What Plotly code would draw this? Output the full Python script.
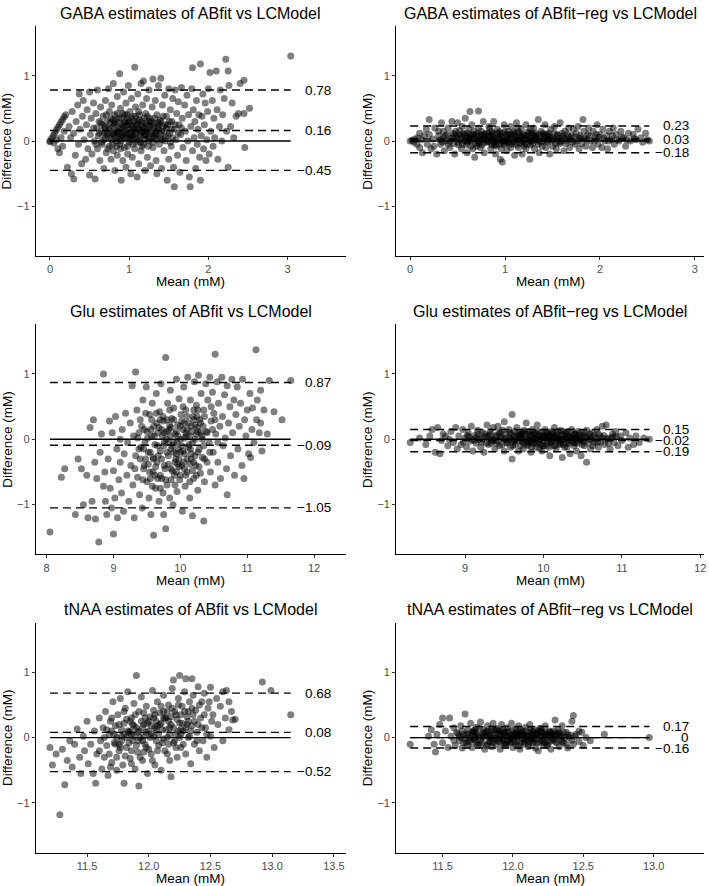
import plotly.graph_objects as go

# ---------------- data (mean, difference) ----------------
titles = [
    "GABA estimates of ABfit vs LCModel",
    "GABA estimates of ABfit\u2212reg vs LCModel",
    "Glu estimates of ABfit vs LCModel",
    "Glu estimates of ABfit\u2212reg vs LCModel",
    "tNAA estimates of ABfit vs LCModel",
    "tNAA estimates of ABfit\u2212reg vs LCModel",
]

# limits of agreement: upper, bias, lower
gaba_abfit_stats = [0.78, 0.16, -0.45]
gaba_reg_stats = [0.23, 0.03, -0.18]
glu_abfit_stats = [0.87, -0.09, -1.05]
glu_reg_stats = [0.15, -0.02, -0.19]
tnaa_abfit_stats = [0.68, 0.08, -0.52]
tnaa_reg_stats = [0.17, 0.00, -0.16]

x_ticks_gaba = [0, 1, 2, 3]
x_ticks_glu_abfit = [8, 9, 10, 11, 12]
x_ticks_glu_reg = [9, 10, 11, 12]
x_ticks_tnaa_abfit = [11.5, 12.0, 12.5, 13.0, 13.5]
x_ticks_tnaa_reg = [11.5, 12.0, 12.5, 13.0]
y_ticks = [-1, 0, 1]

gaba_abfit_points = [
    (0.00,0.00),(0.00,-0.01),(0.02,0.04),(0.04,0.08),(0.06,0.12),(0.08,0.17),(0.10,0.21),(0.12,0.25),
    (0.14,0.29),(0.16,0.33),(0.18,0.37),(0.20,0.40),(0.05,-0.03),(0.08,0.02),
    (0.10,-0.12),(0.12,-0.18),(0.14,0.05),(0.16,-0.08),(0.18,0.15),
    (0.22,-0.40),(0.24,0.22),(0.26,0.05),(0.27,-0.50),(0.28,0.45),(0.30,-0.58),(0.30,0.12),(0.32,-0.22),
    (0.33,0.30),(0.35,0.55),(0.36,-0.05),(0.37,0.72),(0.38,0.18),(0.40,-0.35),(0.41,0.38),(0.42,0.62),
    (0.43,0.02),(0.45,-0.28),(0.46,0.25),(0.47,0.48),(0.48,-0.12),(0.50,0.75),(0.50,-0.52),(0.51,0.10),
    (0.52,0.35),(0.53,-0.20),(0.55,0.58),(0.56,0.00),(0.57,-0.58),(0.58,0.42),(0.59,0.20),(0.60,0.78),
    (0.60,-0.12),(0.61,0.08),(0.62,0.30),(0.63,-0.30),(0.64,0.52),(0.65,0.15),(0.66,-0.05),(0.67,0.38),
    (0.68,-0.42),(0.69,0.22),(0.70,0.05),(0.70,0.62),(0.71,-0.18),(0.72,0.30),(0.73,0.12),(0.74,0.80),
    (0.75,-0.08),(0.75,0.45),(0.76,0.20),(0.77,-0.28),(0.78,0.02),(0.78,0.55),(0.79,0.32),(0.80,-0.15),
    (0.80,0.88),(0.81,0.12),(0.82,0.40),(0.82,-0.45),(0.83,0.25),(0.84,0.00),(0.85,0.68),(0.85,-0.22),
    (0.86,0.15),(0.87,0.35),(0.88,1.03),(0.88,-0.05),(0.89,0.50),(0.90,0.20),(0.90,-0.60),(0.91,0.08),
    (0.92,0.42),(0.92,-0.30),(0.93,0.75),(0.94,0.28),(0.94,-0.10),(0.95,0.05),(0.96,0.58),(0.96,-0.40),
    (0.97,0.18),(0.98,0.35),(0.98,-0.20),(0.99,0.85),(1.00,0.10),(1.00,-0.02),(1.01,0.45),(1.02,0.25),
    (1.02,-0.50),(1.03,0.65),(1.04,0.05),(1.04,-0.25),(1.05,0.38),(1.06,0.15),(1.07,1.13),(1.07,-0.12),
    (1.08,0.52),(1.09,0.28),(1.10,-0.55),(1.10,0.02),(1.11,0.72),(1.12,0.18),(1.12,-0.35),(1.13,0.40),
    (1.14,0.08),(1.15,0.88),(1.15,-0.15),(1.16,0.30),(1.17,0.55),(1.18,-0.05),(1.18,0.92),(1.19,0.20),
    (1.20,-0.45),(1.20,0.10),(1.21,0.42),(1.22,0.65),(1.23,-0.25),(1.24,0.25),(1.25,0.00),(1.25,0.78),
    (1.26,0.35),(1.27,-0.38),(1.28,0.15),(1.29,0.52),(1.30,-0.10),(1.30,0.95),(1.31,0.28),(1.32,0.05),
    (1.33,0.62),(1.34,-0.30),(1.35,0.40),(1.35,-0.50),(1.36,0.18),(1.37,0.85),(1.38,-0.05),(1.39,0.32),
    (1.40,0.96),(1.40,0.10),(1.41,-0.42),(1.42,0.55),(1.43,0.22),(1.44,-0.15),(1.45,0.70),(1.46,0.05),
    (1.47,0.38),(1.48,-0.60),(1.49,0.25),(1.50,-0.28),(1.50,0.80),(1.51,0.12),(1.52,0.48),(1.53,-0.08),
    (1.54,0.30),(1.55,0.65),(1.56,-0.40),(1.57,-0.70),(1.57,0.18),(1.58,0.78),(1.59,0.02),(1.60,0.42),
    (1.61,-0.22),(1.62,0.60),(1.63,0.25),(1.64,-0.48),(1.65,0.10),(1.66,0.82),(1.67,0.35),(1.68,-0.10),
    (1.70,0.55),(1.71,0.15),(1.72,-0.30),(1.73,0.70),(1.74,0.00),(1.75,0.40),(1.76,-0.55),(1.77,-0.70),
    (1.78,0.22),(1.79,0.80),(1.80,1.12),(1.80,-0.15),(1.81,0.48),(1.82,0.05),(1.83,0.30),(1.84,-0.42),
    (1.85,0.62),(1.86,-0.05),(1.87,0.18),(1.88,0.40),(1.89,-0.25),(1.90,1.18),(1.90,-0.60),(1.91,0.08),
    (1.92,0.38),(1.93,0.72),(1.94,-0.12),(1.95,0.25),(1.96,0.58),(1.97,-0.30),(1.98,0.02),(1.99,0.45),
    (2.00,0.80),(2.01,-0.20),(2.02,1.05),(2.03,0.15),(2.05,0.62),(2.06,-0.08),(2.07,0.35),(2.08,0.05),
    (2.10,1.07),(2.11,0.48),(2.12,-0.28),(2.14,0.22),(2.15,0.78),(2.17,0.00),(2.18,0.40),(2.20,0.65),
    (2.22,1.25),(2.23,0.15),(2.25,1.07),(2.25,-0.40),(2.26,0.85),(2.28,0.22),(2.30,0.58),(2.32,0.05),
    (2.35,0.38),(2.38,0.42),(2.40,0.88),(2.45,0.93),(2.45,0.42),(2.46,-0.10),(2.52,0.50),(3.04,1.30),
]
gaba_abfit_core = [
    (0.72,0.10),(0.76,0.05),(0.80,0.22),(0.84,0.15),(0.86,0.28),(0.90,0.00),(0.93,0.12),(0.97,0.25),
    (1.00,0.18),(1.03,0.08),(1.06,0.30),(1.09,0.12),(1.13,0.02),(1.16,0.22),(1.19,0.08),(1.23,0.15),
    (1.27,0.05),(1.31,0.20),(1.34,0.10),(1.38,0.25),(0.88,0.18),(0.95,0.30),(1.05,0.20),(1.11,0.30),
    (1.21,0.28),(0.79,0.10),(0.99,0.05),(1.15,0.12),(1.26,0.22),(1.44,0.15),
    (0.62,0.12),(0.66,0.25),(0.68,0.02),(0.71,0.40),(0.73,-0.12),(0.74,0.18),(0.77,0.35),(0.79,-0.05),
    (0.81,0.28),(0.83,0.05),(0.85,0.42),(0.87,0.12),(0.89,-0.12),(0.91,0.25),(0.92,0.05),(0.94,0.40),
    (0.96,0.10),(0.98,-0.08),(1.00,0.30),(1.01,0.02),(1.03,0.35),(1.05,-0.05),(1.06,0.10),(1.08,0.38),
    (1.09,-0.02),(1.11,0.20),(1.12,0.45),(1.14,0.15),(1.16,-0.08),(1.17,0.25),(1.19,0.35),(1.20,0.02),
    (1.22,0.18),(1.24,-0.08),(1.25,0.30),(1.27,0.12),(1.29,0.25),(1.30,-0.02),(1.32,0.35),(1.33,0.12),
    (1.35,0.02),(1.37,0.28),(1.39,0.05),(1.41,0.15),(1.43,0.38),(1.45,0.00),(1.47,0.20),(1.49,0.08),
    (1.51,0.30),(1.53,0.18),(1.55,0.05),(1.58,0.25),(1.62,0.12),(1.66,0.20),(0.55,0.20),(0.58,-0.05),
    (0.64,0.28),(0.69,0.12),(0.76,0.28),(0.82,0.32),(0.84,-0.08),(0.86,0.05),(0.93,0.22),(0.95,0.15),
    (0.97,0.40),(1.02,0.12),(1.04,0.22),(1.07,0.05),(1.10,0.25),(1.13,0.32),(1.18,0.15),(1.21,0.10),
    (1.23,0.38),(1.28,0.30),(1.31,0.08),(1.36,0.22),(1.40,0.30),(1.46,0.25),(0.90,0.35),(0.99,0.28),
    (1.08,0.18),(1.14,-0.02),(1.24,0.05),(0.88,0.08),(0.80,0.12),(0.70,0.20),(0.65,-0.02),(1.34,0.15),
    (1.42,0.02),(1.52,-0.02),
]

gaba_reg_points = [
    (0.00,0.00),(0.02,0.01),(0.04,-0.02),(0.05,0.03),(0.07,-0.05),(0.08,0.05),(0.10,-0.10),(0.10,0.12),
    (0.12,0.02),(0.13,-0.18),(0.15,0.08),(0.17,0.18),(0.18,-0.05),(0.20,0.33),(0.20,0.10),(0.22,-0.12),
    (0.24,0.03),(0.26,0.20),(0.28,-0.20),(0.30,0.08),(0.32,-0.05),(0.33,0.28),(0.35,0.15),(0.36,-0.15),
    (0.38,0.00),(0.40,0.20),(0.42,-0.10),(0.44,0.30),(0.45,0.05),(0.47,-0.20),(0.48,0.15),(0.50,0.28),
    (0.50,-0.02),(0.52,0.10),(0.54,-0.12),(0.55,0.22),(0.57,0.00),(0.58,0.35),(0.60,-0.18),(0.60,0.12),
    (0.62,0.05),(0.63,0.45),(0.64,-0.08),(0.65,0.25),(0.67,0.15),(0.68,-0.25),(0.70,0.02),(0.72,0.46),
    (0.72,0.20),(0.74,-0.10),(0.75,0.08),(0.77,0.30),(0.78,-0.18),(0.80,0.12),(0.82,0.00),(0.83,0.22),
    (0.85,-0.12),(0.87,0.10),(0.88,0.30),(0.90,-0.20),(0.90,0.05),(0.92,0.18),(0.94,-0.05),(0.95,-0.28),
    (0.97,0.12),(0.97,-0.32),(0.99,0.25),(1.00,0.00),(1.02,-0.15),(1.03,0.15),(1.05,-0.05),(1.06,0.22),
    (1.08,0.05),(1.10,-0.22),(1.10,0.10),(1.12,0.28),(1.14,-0.10),(1.15,0.02),(1.17,0.18),(1.18,-0.20),
    (1.20,0.08),(1.22,0.25),(1.23,-0.05),(1.25,0.12),(1.26,-0.28),(1.28,0.00),(1.30,0.20),(1.31,-0.12),
    (1.33,0.06),(1.35,0.33),(1.36,-0.18),(1.38,0.15),(1.40,0.00),(1.42,0.25),(1.43,-0.10),(1.45,0.08),
    (1.47,-0.20),(1.48,0.18),(1.50,0.02),(1.52,0.22),(1.54,-0.12),(1.55,0.10),(1.57,-0.02),(1.58,0.28),
    (1.60,0.05),(1.62,-0.15),(1.63,0.15),(1.65,0.00),(1.67,0.20),(1.68,-0.10),(1.70,0.08),(1.72,0.18),
    (1.74,-0.05),(1.75,0.12),(1.77,0.22),(1.78,-0.12),(1.80,0.05),(1.82,0.33),(1.83,0.15),(1.85,-0.08),
    (1.87,0.10),(1.88,0.20),(1.90,0.00),(1.92,-0.10),(1.93,0.15),(1.95,0.05),(1.97,0.25),(1.98,-0.05),
    (2.00,0.10),(2.02,-0.10),(2.03,0.18),(2.05,0.00),(2.07,0.08),(2.08,-0.12),(2.10,0.15),(2.12,0.02),
    (2.14,0.20),(2.15,-0.05),(2.17,0.10),(2.20,0.00),(2.22,0.15),(2.25,0.05),(2.27,-0.08),(2.30,0.12),
    (2.32,0.00),(2.35,0.10),(2.38,0.02),(2.40,0.18),(2.43,0.05),(2.45,-0.02),(2.48,0.12),(2.50,0.02),
    (2.52,0.00),
]
gaba_reg_core = [
    (0.50,0.05),(0.55,-0.05),(0.60,0.00),(0.65,0.08),(0.70,-0.08),(0.75,0.15),(0.80,0.02),(0.85,0.08),
    (0.90,-0.05),(0.95,0.10),(1.00,0.15),(1.05,0.05),(1.10,-0.02),(1.15,0.12),(1.20,-0.08),(1.25,0.02),
    (1.30,0.10),(1.35,-0.05),(1.40,0.12),(1.45,-0.02),(0.45,0.12),(0.40,-0.05),(0.35,0.05),(0.30,0.15),
    (0.25,-0.08),(0.82,0.12),(0.88,-0.02),(0.93,0.05),(0.98,0.00),(1.08,0.12),(1.18,0.05),(1.28,0.12),
    (0.68,0.05),(0.78,0.05),(1.50,-0.08),(1.60,0.12),(0.62,0.18),(0.73,-0.02),(0.84,0.20),(0.96,-0.12),
    (1.04,0.08),(1.13,0.20),(1.22,-0.12),(1.32,0.02),(1.42,0.08),(1.52,0.12),(0.58,0.08),(0.86,-0.06),
    (1.12,-0.06),(1.27,0.18),(0.66,-0.12),(1.06,-0.10),
    (0.32,0.02),(0.37,0.08),(0.42,0.00),(0.46,-0.04),(0.49,0.08),(0.53,0.02),(0.56,0.12),(0.59,-0.06),
    (0.61,0.06),(0.64,0.00),(0.67,0.10),(0.69,-0.04),(0.71,0.12),(0.74,0.02),(0.76,-0.06),(0.79,0.10),
    (0.81,-0.02),(0.83,0.06),(0.86,0.14),(0.89,0.02),(0.91,-0.08),(0.94,0.08),(0.96,0.02),(0.99,-0.06),
    (1.01,0.08),(1.03,-0.02),(1.07,0.10),(1.09,0.00),(1.11,0.06),(1.14,0.14),(1.16,-0.04),(1.19,0.10),
    (1.21,0.02),(1.24,0.06),(1.27,-0.06),(1.29,0.08),(1.32,0.12),(1.34,0.00),(1.37,0.06),(1.39,-0.08),
    (1.41,0.04),(1.44,0.10),(1.46,0.02),(1.49,0.06),(1.53,-0.04),(1.56,0.04),(1.59,0.00),(1.61,0.08),
    (1.64,-0.04),(1.66,0.10),(1.69,0.02),(1.73,0.06),(1.76,0.00),(1.79,0.08),(1.81,-0.04),(1.84,0.04),
    (1.89,0.08),(1.94,0.00),(1.99,0.06),(2.04,0.04),(2.09,0.00),(2.13,0.08),(2.18,0.02),(2.23,0.06),
    (2.28,0.02),(2.36,0.04),(0.52,0.16),(0.63,0.02),(0.77,0.04),(0.87,0.04),(0.92,0.12),(1.02,0.04),
    (1.16,0.08),(1.26,0.04),(1.36,0.10),(1.46,0.12),(0.72,-0.04),(0.97,-0.02),(1.21,-0.04),(1.31,0.04),
    (0.34,-0.02),(0.39,0.10),(0.43,0.04),(0.47,0.10),(0.51,-0.06),(0.54,0.06),(0.57,0.10),(0.61,-0.02),
    (0.63,0.10),(0.66,0.04),(0.69,0.10),(0.71,0.00),(0.73,0.08),(0.76,0.10),(0.78,-0.02),(0.81,0.06),
    (0.84,-0.02),(0.87,0.12),(0.89,-0.06),(0.92,0.00),(0.94,0.14),(0.97,0.06),(1.00,-0.04),(1.02,0.10),
    (1.04,0.00),(1.07,-0.04),(1.09,0.14),(1.12,0.02),(1.14,0.06),(1.17,-0.02),(1.19,0.00),(1.22,0.08),
    (1.24,0.14),(1.27,0.00),(1.29,-0.04),(1.32,0.08),(1.35,0.02),(1.38,-0.02),(1.41,0.10),(1.44,0.00),
    (1.47,0.06),(1.51,0.02),(1.55,0.08),(1.58,-0.04),(1.63,0.04),(1.67,0.06),(1.71,-0.02),(1.78,0.04),
    (1.86,0.02),(1.96,0.10),
]

glu_abfit_points = [
    (8.05,-1.42),(8.22,-0.58),(8.27,-0.45),(8.43,-1.15),(8.47,-0.30),(8.52,-0.45),(8.55,-1.00),(8.60,-0.55),
    (8.62,-1.20),(8.65,0.18),(8.68,-0.95),(8.70,0.30),(8.72,-0.35),(8.73,-1.22),(8.75,-0.60),(8.78,-1.57),
    (8.80,-0.20),(8.82,0.08),(8.85,1.00),(8.85,-0.72),(8.87,-0.50),(8.88,-0.95),(8.90,-1.15),(8.92,-0.30),
    (8.94,0.28),(8.95,-0.75),(8.97,-1.05),(8.98,0.10),(9.00,-1.45),(9.00,-0.48),(9.02,-0.90),(9.03,0.35),
    (9.05,-0.15),(9.06,-1.20),(9.08,-0.62),(9.10,0.00),(9.10,-0.35),(9.12,-0.82),(9.13,0.15),(9.15,-1.10),
    (9.16,-0.22),(9.18,0.40),(9.20,-0.55),(9.21,-0.05),(9.23,-0.95),(9.25,0.25),(9.26,-0.40),(9.28,0.82),
    (9.29,-0.70),(9.30,0.05),(9.31,-1.20),(9.33,1.03),(9.33,-0.25),(9.35,0.45),(9.36,-0.58),(9.38,0.10),
    (9.39,-0.85),(9.40,0.30),(9.41,-0.12),(9.43,-1.05),(9.44,0.60),(9.45,-0.45),(9.46,0.15),(9.48,-0.30),
    (9.49,0.80),(9.50,-0.65),(9.51,0.02),(9.53,-0.90),(9.54,0.38),(9.55,-0.20),(9.56,-1.15),(9.58,0.55),
    (9.59,-0.50),(9.60,-1.47),(9.60,0.20),(9.62,-0.08),(9.63,-0.75),(9.64,0.70),(9.65,-0.35),(9.66,0.10),
    (9.68,-0.95),(9.69,0.42),(9.70,-0.18),(9.71,0.85),(9.72,-0.60),(9.73,0.05),(9.75,-1.15),(9.75,0.28),
    (9.76,-0.40),(9.78,1.25),(9.78,-1.37),(9.79,0.00),(9.80,-0.70),(9.81,0.55),(9.82,-0.25),(9.83,0.15),
    (9.84,-0.90),(9.85,0.75),(9.86,-0.45),(9.87,0.32),(9.88,-0.10),(9.89,-1.00),(9.90,0.48),(9.91,-0.55),
    (9.92,0.08),(9.93,-0.30),(9.94,0.92),(9.95,-0.80),(9.96,0.22),(9.97,-0.15),(9.98,0.62),(9.99,-0.62),
    (10.00,0.00),(10.01,0.38),(10.02,-0.40),(10.03,-1.10),(10.04,0.15),(10.05,0.80),(10.06,-0.22),(10.07,-0.72),
    (10.08,0.45),(10.09,0.05),(10.10,-0.50),(10.11,0.95),(10.12,0.25),(10.13,-0.08),(10.14,-0.90),(10.15,0.60),
    (10.16,-0.30),(10.17,0.12),(10.18,-1.17),(10.19,0.35),(10.20,-0.60),(10.21,0.88),(10.22,0.00),(10.23,-0.40),
    (10.24,0.52),(10.25,0.18),(10.26,-0.78),(10.27,0.98),(10.28,-0.15),(10.29,0.30),(10.30,-0.52),(10.31,0.70),
    (10.32,0.05),(10.33,-0.28),(10.35,-1.25),(10.35,0.45),(10.36,-0.65),(10.38,0.85),(10.39,0.12),(10.40,-0.35),
    (10.41,0.60),(10.43,-0.05),(10.44,0.95),(10.45,-0.50),(10.46,0.28),(10.48,0.72),(10.49,-0.20),(10.50,0.40),
    (10.52,1.30),(10.52,-0.70),(10.53,0.08),(10.55,0.88),(10.56,-0.35),(10.57,0.55),(10.59,0.20),(10.60,-0.60),
    (10.62,0.95),(10.63,0.35),(10.64,-0.10),(10.66,0.68),(10.67,0.02),(10.69,-0.45),(10.70,0.82),(10.70,-0.85),
    (10.72,0.25),(10.74,0.50),(10.75,-0.25),(10.77,0.92),(10.78,0.10),(10.80,0.60),(10.81,-0.55),(10.83,0.38),
    (10.85,0.80),(10.86,-0.15),(10.88,0.20),(10.90,0.55),(10.92,-0.40),(10.93,0.92),(10.95,-0.60),(10.96,0.30),
    (10.98,0.05),(11.00,0.45),(11.02,-0.22),(11.04,0.70),(11.05,-0.28),(11.07,0.15),(11.08,0.48),(11.10,-0.05),
    (11.13,1.37),(11.14,0.30),(11.15,0.60),(11.18,0.10),(11.20,0.75),(11.20,0.25),(11.22,-0.18),(11.25,0.45),
    (11.30,0.08),(11.33,0.90),(11.40,0.42),(11.52,0.30),(11.65,0.90),
]
glu_abfit_core = [
    (9.45,-0.15),(9.52,-0.38),(9.57,0.05),(9.62,-0.55),(9.67,-0.25),(9.72,0.15),(9.77,-0.45),(9.82,-0.05),
    (9.86,-0.62),(9.90,-0.20),(9.94,0.12),(9.98,-0.42),(10.02,-0.10),(10.06,0.25),(10.10,-0.30),(10.14,0.05),
    (10.18,-0.48),(10.22,0.22),(10.26,-0.20),(10.30,0.10),(9.85,0.05),(9.95,-0.05),(10.05,-0.35),(9.75,-0.10),
    (10.15,-0.15),(9.65,0.25),(10.25,0.35),(9.55,-0.60),(10.35,-0.10),(9.80,0.30),(10.00,0.20),(9.92,-0.35),
    (10.08,-0.55),(9.70,-0.75),(10.20,0.45),
    (9.32,-0.45),(9.36,0.02),(9.40,-0.30),(9.42,0.20),(9.44,-0.62),(9.47,-0.05),(9.50,0.12),(9.52,-0.20),
    (9.54,-0.50),(9.57,0.30),(9.59,-0.28),(9.61,0.05),(9.63,-0.42),(9.66,-0.10),(9.68,0.18),(9.70,-0.55),
    (9.72,-0.30),(9.74,0.35),(9.76,-0.05),(9.78,-0.62),(9.80,0.12),(9.82,-0.38),(9.84,0.22),(9.86,-0.15),
    (9.88,-0.48),(9.90,0.30),(9.92,-0.70),(9.94,-0.22),(9.96,0.05),(9.98,-0.30),(10.00,-0.55),(10.02,0.28),
    (10.04,-0.18),(10.06,-0.45),(10.08,0.10),(10.10,0.35),(10.12,-0.12),(10.14,-0.38),(10.16,0.20),(10.18,-0.05),
    (10.20,0.30),(10.22,-0.25),(10.24,0.08),(10.26,0.45),(10.28,-0.42),(10.30,0.25),(10.33,0.00),(10.36,0.35),
    (10.40,0.10),(10.44,-0.20),(10.48,0.15),(10.52,0.30),(10.56,-0.05),(9.48,0.40),(9.58,-0.72),(9.64,0.40),
    (9.74,-0.82),(9.84,0.45),(9.94,-0.50),(10.04,0.50),(10.14,-0.65),(10.24,-0.55),(10.34,0.20),(9.38,-0.15),
    (9.46,-0.40),(9.56,0.15),(9.66,-0.60),(9.76,0.10),(9.86,0.18),(9.96,-0.38),(10.06,0.02),(10.16,-0.22),
    (10.26,0.12),(10.36,-0.30),(10.46,0.50),(9.90,-0.05),(9.80,-0.20),(10.00,-0.20),(10.10,0.15),(9.70,0.30),
    (10.20,-0.35),(9.60,-0.30),
]

glu_reg_points = [
    (8.30,-0.05),(8.42,0.02),(8.50,-0.08),(8.55,0.05),(8.58,0.15),(8.62,-0.20),(8.65,0.18),(8.68,-0.22),
    (8.70,-0.02),(8.72,0.08),(8.75,0.05),(8.78,-0.10),(8.80,0.00),(8.82,0.12),(8.85,-0.05),(8.88,0.18),
    (8.90,-0.15),(8.92,0.05),(8.95,-0.08),(8.97,0.15),(9.00,0.02),(9.02,-0.12),(9.04,0.10),(9.06,-0.03),
    (9.08,0.20),(9.10,-0.18),(9.12,0.06),(9.14,-0.06),(9.16,0.14),(9.18,0.00),(9.20,-0.12),(9.22,0.10),
    (9.24,-0.20),(9.26,0.04),(9.28,0.22),(9.30,-0.08),(9.32,0.12),(9.34,-0.02),(9.36,0.18),(9.38,-0.15),
    (9.40,0.06),(9.42,0.20),(9.44,-0.10),(9.46,0.02),(9.48,0.14),(9.50,0.27),(9.50,-0.18),(9.52,0.08),
    (9.54,-0.05),(9.56,0.15),(9.58,-0.12),(9.60,0.38),(9.60,-0.30),(9.62,0.05),(9.64,-0.08),(9.66,0.18),
    (9.68,-0.18),(9.70,0.10),(9.72,0.00),(9.74,-0.15),(9.76,0.12),(9.78,0.25),(9.80,-0.05),(9.82,0.08),
    (9.84,-0.20),(9.86,0.15),(9.88,0.02),(9.90,-0.12),(9.92,0.22),(9.94,-0.04),(9.96,0.10),(9.98,-0.18),
    (10.00,0.05),(10.02,0.15),(10.04,-0.10),(10.06,0.02),(10.08,-0.25),(10.10,0.12),(10.12,-0.02),(10.14,0.18),
    (10.16,-0.15),(10.18,0.06),(10.20,-0.08),(10.22,0.14),(10.24,-0.28),(10.26,0.00),(10.28,0.10),(10.30,-0.12),
    (10.32,0.05),(10.34,-0.22),(10.36,0.15),(10.38,-0.05),(10.40,0.08),(10.42,-0.18),(10.44,0.12),(10.46,-0.02),
    (10.48,-0.25),(10.50,0.06),(10.52,-0.10),(10.55,-0.35),(10.55,0.14),(10.58,0.00),(10.60,-0.15),(10.62,0.10),
    (10.65,-0.05),(10.68,0.15),(10.70,-0.12),(10.72,0.05),(10.75,0.20),(10.78,-0.08),(10.80,0.22),(10.82,0.02),
    (10.85,-0.15),(10.88,0.08),(10.90,-0.05),(10.92,0.12),(10.95,-0.10),(10.98,0.05),(11.00,-0.02),(11.05,0.10),
    (11.08,-0.12),(11.10,0.02),(11.15,-0.08),(11.18,0.05),(11.22,-0.05),(11.28,0.02),(11.35,0.00),
]
glu_reg_core = [
    (9.65,0.02),(9.75,-0.06),(9.85,0.05),(9.95,0.00),(10.05,-0.04),(10.15,0.04),(10.25,-0.08),(10.35,0.02),
    (10.45,0.06),(9.55,-0.02),(9.45,0.05),(9.35,0.00),(10.00,-0.10),(10.10,-0.06),(9.90,0.08),(10.20,0.02),
    (9.80,-0.10),(10.30,0.08),(9.70,0.05),(10.40,-0.06),(10.60,0.04),(10.50,-0.02),(9.40,-0.06),(10.70,0.08),
    (9.30,0.06),(10.05,0.10),(9.95,-0.14),(9.75,0.14),(10.25,0.12),(9.85,-0.12),(9.62,-0.04),(9.72,0.08),
    (9.82,-0.02),(9.92,-0.06),(10.02,0.04),(10.12,0.08),(10.22,-0.04),(10.32,-0.02),(10.42,0.02),(10.52,0.10),
    (9.22,0.00),(9.27,-0.06),(9.33,0.08),(9.37,-0.02),(9.43,0.10),(9.47,-0.08),(9.52,0.02),(9.57,0.10),
    (9.61,-0.10),(9.63,0.12),(9.67,-0.02),(9.69,0.06),(9.71,-0.10),(9.73,0.10),(9.77,0.02),(9.79,-0.08),
    (9.81,0.12),(9.83,-0.04),(9.87,0.08),(9.89,-0.06),(9.91,0.02),(9.93,0.12),(9.97,-0.08),(9.99,0.06),
    (10.01,-0.02),(10.03,0.10),(10.07,-0.12),(10.09,0.04),(10.11,0.10),(10.13,-0.10),(10.17,0.00),(10.19,0.12),
    (10.21,-0.06),(10.23,0.06),(10.27,-0.12),(10.29,0.02),(10.31,0.12),(10.33,-0.06),(10.37,0.04),(10.39,-0.10),
    (10.41,0.08),(10.43,0.00),(10.47,0.10),(10.49,-0.08),(10.53,0.04),(10.57,-0.06),(10.59,0.08),(10.63,-0.10),
    (10.67,0.02),(10.73,-0.04),(10.77,0.06),(10.83,-0.06),(10.87,0.02),(10.93,0.04),(9.12,-0.02),(9.17,0.08),
    (9.05,0.04),(8.98,-0.04),(9.60,0.00),(9.90,0.00),(10.10,0.00),(10.40,0.02),(9.95,0.06),(10.05,0.06),
    (9.85,-0.06),(10.15,-0.10),(9.75,0.00),(10.25,0.00),
    (9.03,0.06),(9.09,0.00),(9.15,0.04),(9.21,-0.04),(9.25,0.08),(9.29,0.02),(9.33,-0.06),(9.39,0.04),
    (9.41,-0.02),(9.45,0.10),(9.49,0.00),(9.53,-0.06),(9.57,0.02),(9.59,0.08),(9.63,-0.02),(9.67,0.08),
    (9.71,0.02),(9.73,-0.04),(9.77,0.08),(9.81,0.00),(9.83,0.06),(9.87,-0.02),(9.89,0.10),(9.93,0.00),
    (9.97,0.04),(9.99,-0.10),(10.03,0.02),(10.07,0.06),(10.09,-0.04),(10.13,0.04),(10.17,0.08),(10.19,-0.02),
    (10.23,0.00),(10.27,0.06),(10.29,-0.06),(10.33,0.04),(10.37,-0.02),(10.39,0.08),(10.43,-0.06),(10.47,0.02),
    (10.51,-0.04),(10.55,0.04),(10.61,0.00),(10.65,0.06),(10.69,-0.04),(10.75,0.02),(10.81,0.00),(10.89,0.04),
]

tnaa_abfit_points = [
    (11.20,-0.15),(11.22,-0.42),(11.25,-0.25),(11.28,-1.18),(11.30,-0.18),(11.32,-0.72),(11.34,-0.35),(11.36,-0.05),
    (11.38,-0.45),(11.40,-0.10),(11.42,0.13),(11.44,-0.30),(11.45,-0.55),(11.47,0.02),(11.48,-0.20),(11.50,0.25),
    (11.51,-0.40),(11.53,-0.10),(11.55,-0.55),(11.56,0.10),(11.57,-0.70),(11.58,-0.25),(11.60,0.30),(11.61,-0.05),
    (11.62,-0.48),(11.63,0.15),(11.64,-0.30),(11.65,0.40),(11.66,-0.12),(11.67,-0.58),(11.68,0.05),(11.69,0.25),
    (11.70,-0.38),(11.71,0.55),(11.72,-0.08),(11.73,0.18),(11.74,-0.50),(11.75,0.35),(11.76,-0.20),(11.77,0.60),
    (11.78,0.02),(11.79,-0.42),(11.80,0.22),(11.80,-0.70),(11.81,0.45),(11.82,-0.15),(11.83,0.70),(11.84,0.08),
    (11.85,-0.32),(11.86,0.30),(11.87,-0.05),(11.88,0.52),(11.89,-0.48),(11.90,0.95),(11.90,0.15),(11.91,-0.22),
    (11.92,-0.74),(11.92,0.40),(11.93,0.00),(11.94,0.62),(11.95,-0.35),(11.96,0.20),(11.97,-0.10),(11.98,0.48),
    (11.99,-0.55),(12.00,0.10),(12.01,0.32),(12.02,-0.25),(12.03,0.72),(12.04,0.02),(12.05,-0.42),(12.06,0.25),
    (12.07,0.55),(12.08,-0.12),(12.09,0.38),(12.10,-0.50),(12.11,0.12),(12.12,0.65),(12.13,-0.20),(12.14,0.30),
    (12.15,0.00),(12.16,0.50),(12.17,-0.35),(12.18,-0.60),(12.18,0.20),(12.19,0.75),(12.20,0.88),(12.20,-0.08),
    (12.21,0.40),(12.22,0.05),(12.23,-0.30),(12.24,0.60),(12.25,0.95),(12.25,0.22),(12.26,-0.15),(12.27,0.48),
    (12.28,0.10),(12.29,0.70),(12.30,0.90),(12.30,-0.25),(12.31,0.32),(12.32,0.00),(12.33,0.55),(12.34,-0.40),
    (12.35,0.90),(12.35,0.18),(12.36,0.65),(12.37,-0.10),(12.38,0.42),(12.39,0.08),(12.40,0.78),(12.41,-0.20),
    (12.42,0.30),(12.43,0.55),(12.44,-0.05),(12.45,0.68),(12.46,0.15),(12.47,-0.30),(12.48,0.45),(12.50,0.77),
    (12.50,0.02),(12.52,0.35),(12.53,-0.15),(12.55,0.60),(12.56,0.20),(12.58,0.48),(12.60,0.70),(12.60,-0.05),
    (12.62,0.30),(12.63,0.72),(12.65,0.55),(12.65,0.12),(12.67,0.40),(12.68,0.27),(12.70,0.28),(12.92,0.85),
    (12.99,0.72),(13.15,0.35),
]
tnaa_abfit_core = [
    (11.78,0.12),(11.82,0.28),(11.86,0.05),(11.90,-0.12),(11.94,0.25),(11.98,0.08),(12.02,0.18),(12.06,-0.05),
    (12.10,0.22),(12.14,0.12),(12.18,0.32),(12.22,-0.15),(12.26,0.35),(12.30,0.15),(11.88,0.18),(11.96,-0.22),
    (12.04,0.30),(12.12,-0.02),(12.20,0.15),(11.84,-0.08),(11.92,0.10),(12.00,-0.18),(12.08,0.05),(12.16,0.25),
    (12.24,0.10),(11.74,0.00),(11.70,0.10),(12.32,0.25),(12.36,0.35),(12.40,0.20),(11.76,-0.10),(11.86,-0.20),
    (11.96,0.02),(12.06,0.12),(12.16,-0.10),(12.26,0.05),(12.34,0.10),(11.80,0.05),(12.00,0.25),(12.12,0.40),
    (11.66,0.12),(11.68,-0.25),(11.70,0.30),(11.72,0.05),(11.74,-0.30),(11.76,0.20),(11.78,-0.05),(11.80,0.40),
    (11.81,-0.28),(11.83,0.10),(11.85,0.25),(11.86,-0.40),(11.88,0.02),(11.89,0.35),(11.91,0.08),(11.93,-0.30),
    (11.95,0.15),(11.96,0.38),(11.98,-0.15),(11.99,0.22),(12.01,0.00),(12.03,-0.35),(12.04,0.42),(12.05,0.15),
    (12.07,-0.20),(12.09,0.20),(12.10,0.48),(12.11,-0.08),(12.13,0.30),(12.15,-0.25),(12.17,0.15),(12.19,0.45),
    (12.21,-0.05),(12.23,0.28),(12.24,0.50),(12.26,0.12),(12.28,-0.10),(12.29,0.40),(12.31,0.20),(12.33,0.02),
    (12.35,0.45),(12.37,0.25),(12.39,-0.05),(12.41,0.50),(12.43,0.15),(12.45,0.35),(12.47,0.05),(12.49,0.55),
    (12.51,0.25),(11.82,0.00),(11.87,0.20),(11.92,-0.05),(11.97,0.30),(12.02,0.05),(12.07,0.18),(12.12,0.30),
    (12.17,0.05),(12.22,0.35),(12.27,0.22),(12.32,0.40),(11.77,-0.15),(11.73,-0.10),(11.69,-0.45),(11.64,0.00),
    (11.60,-0.20),(11.95,-0.05),(12.05,0.35),(12.15,0.40),(11.85,0.10),(12.25,0.00),
]

tnaa_reg_points = [
    (11.27,-0.10),(11.40,0.02),(11.42,0.12),(11.44,-0.10),(11.45,-0.22),(11.46,0.05),(11.48,0.20),(11.50,0.30),
    (11.50,-0.08),(11.52,0.10),(11.54,-0.15),(11.55,0.30),(11.56,0.02),(11.58,0.15),(11.59,-0.12),(11.60,0.08),
    (11.62,-0.05),(11.63,0.18),(11.64,-0.16),(11.65,0.05),(11.66,0.36),(11.67,-0.08),(11.68,0.12),(11.69,0.00),
    (11.70,0.22),(11.71,-0.15),(11.72,0.08),(11.73,-0.04),(11.74,0.16),(11.75,-0.12),(11.76,0.04),(11.77,0.24),
    (11.78,-0.08),(11.79,0.12),(11.80,-0.18),(11.81,0.02),(11.82,0.18),(11.83,-0.06),(11.84,0.10),(11.85,-0.14),
    (11.86,0.22),(11.87,0.00),(11.88,-0.10),(11.89,0.14),(11.90,0.05),(11.91,-0.18),(11.92,0.20),(11.93,-0.04),
    (11.94,0.08),(11.95,-0.12),(11.96,0.15),(11.97,0.02),(11.98,-0.08),(11.99,0.22),(12.00,-0.15),(12.01,0.06),
    (12.02,0.12),(12.03,-0.06),(12.04,0.18),(12.05,-0.18),(12.06,0.02),(12.07,0.10),(12.08,-0.10),(12.09,0.16),
    (12.10,0.00),(12.11,-0.14),(12.12,0.20),(12.13,0.05),(12.14,-0.08),(12.15,0.12),(12.16,-0.16),(12.17,0.06),
    (12.18,-0.20),(12.19,0.14),(12.20,-0.04),(12.21,0.08),(12.22,-0.12),(12.23,0.18),(12.24,0.00),(12.25,-0.10),
    (12.26,0.10),(12.27,-0.18),(12.28,0.04),(12.30,0.27),(12.30,-0.06),(12.32,0.12),(12.33,-0.14),(12.34,0.02),
    (12.35,0.18),(12.36,-0.08),(12.38,0.08),(12.39,-0.16),(12.40,0.00),(12.42,0.25),(12.43,0.34),(12.43,-0.10),
    (12.45,0.05),(12.47,-0.06),(12.49,0.08),(12.50,-0.12),(12.52,0.00),(12.55,-0.05),(12.65,0.05),(12.97,0.00),
]
tnaa_reg_core = [
    (11.75,0.02),(11.80,0.08),(11.85,-0.02),(11.90,-0.06),(11.95,0.04),(12.00,0.02),(12.05,0.08),(12.10,-0.04),
    (12.15,0.00),(12.20,0.10),(12.25,0.04),(11.82,-0.10),(11.92,0.10),(12.02,-0.10),(12.12,0.08),(12.22,-0.02),
    (11.70,-0.04),(12.30,0.06),(11.88,0.06),(11.98,-0.02),(12.08,0.04),(12.18,0.06),(11.78,0.00),(12.28,-0.04),
    (11.65,-0.08),(12.35,0.02),(11.95,-0.10),(12.05,0.12),(11.85,0.12),(12.15,-0.06),(11.72,0.10),(11.83,0.04),
    (11.93,-0.02),(12.03,0.00),(12.13,-0.02),(12.23,0.08),(12.33,0.06),(11.62,0.02),(12.42,-0.04),(11.58,-0.04),
    (11.61,0.06),(11.64,0.10),(11.66,-0.02),(11.68,-0.12),(11.71,0.04),(11.73,0.12),(11.74,-0.08),(11.76,0.14),
    (11.77,-0.04),(11.79,0.06),(11.81,-0.12),(11.82,0.10),(11.84,0.00),(11.86,-0.08),(11.87,0.12),(11.89,-0.02),
    (11.90,0.10),(11.91,0.00),(11.93,0.06),(11.94,-0.10),(11.96,0.08),(11.97,-0.04),(11.99,0.02),(12.00,0.12),
    (12.01,-0.06),(12.03,0.08),(12.04,-0.12),(12.06,0.06),(12.07,-0.02),(12.09,0.10),(12.10,0.04),(12.11,-0.10),
    (12.13,0.12),(12.14,0.02),(12.16,0.06),(12.17,-0.08),(12.19,0.02),(12.20,0.14),(12.21,-0.06),(12.23,0.04),
    (12.24,-0.12),(12.26,0.08),(12.27,0.00),(12.29,0.10),(12.31,-0.08),(12.32,0.04),(12.34,-0.04),(12.36,0.08),
    (12.37,0.00),(12.41,0.04),(11.83,0.02),(11.88,-0.04),(11.93,0.12),(11.98,0.04),(12.03,0.02),(12.08,-0.06),
    (12.13,0.00),(12.18,0.10),(12.23,-0.08),(12.28,0.06),(11.73,0.00),(11.68,0.06),(12.38,-0.10),(12.44,0.02),
    (12.47,0.10),
    (11.63,0.00),(11.67,0.04),(11.69,-0.06),(11.72,-0.02),(11.74,0.06),(11.76,-0.10),(11.79,0.02),(11.81,0.08),
    (11.84,-0.06),(11.86,0.04),(11.88,0.12),(11.91,0.06),(11.92,-0.08),(11.94,0.02),(11.97,0.10),(11.99,-0.06),
    (12.01,0.02),(12.02,0.06),(12.04,0.04),(12.06,-0.08),(12.07,0.06),(12.09,-0.02),(12.11,0.02),(12.12,-0.06),
    (12.14,0.10),(12.16,-0.02),(12.17,0.04),(12.19,-0.08),(12.21,0.02),(12.22,0.06),(12.24,0.04),(12.26,-0.06),
    (12.27,0.08),(12.29,-0.02),(12.31,0.02),(12.33,0.08),(12.35,-0.06),(12.39,0.04),(11.71,0.08),(11.96,-0.06),
]

panels = [
    (titles[0], gaba_abfit_points + gaba_abfit_core, gaba_abfit_stats, x_ticks_gaba, None),
    (titles[1], gaba_reg_points + gaba_reg_core, gaba_reg_stats, x_ticks_gaba, None),
    (titles[2], glu_abfit_points + glu_abfit_core, glu_abfit_stats, x_ticks_glu_abfit, None),
    (titles[3], glu_reg_points + glu_reg_core, glu_reg_stats, x_ticks_glu_reg, None),
    (titles[4], tnaa_abfit_points + tnaa_abfit_core, tnaa_abfit_stats, x_ticks_tnaa_abfit, ".1f"),
    (titles[5], tnaa_reg_points + tnaa_reg_core, tnaa_reg_stats, x_ticks_tnaa_reg, ".1f"),
]

# ---------------- layout / styling ----------------
W, H = 709, 886
FONT = "Liberation Sans, Arial, Helvetica, sans-serif"
rows_top = [26, 324.3, 622.6]
row_h = 230
cols_left = [36, 397.3]
cols_w = [310.7, 308.7]
y_range = [-1.76, 1.76]


def fmt(v):
    s = f"{v:g}"
    return s.replace("-", "\u2212")


fig = go.Figure()
annotations = []
layout_axes = {}

for i, (title, pts, stats, xt, tfmt) in enumerate(panels):
    r, c = divmod(i, 2)
    sfx = "" if i == 0 else str(i + 1)
    xa, ya = "x" + sfx, "y" + sfx
    means = [p[0] for p in pts]
    diffs = [p[1] for p in pts]
    lo, hi = min(means), max(means)
    text_x = hi + 0.17 * (hi - lo)
    pad = 0.05 * (text_x - lo)
    xr = [lo - pad, text_x + pad]

    dx0 = cols_left[c] / W
    dx1 = (cols_left[c] + cols_w[c]) / W
    dy1 = 1 - rows_top[r] / H
    dy0 = 1 - (rows_top[r] + row_h) / H

    fig.add_trace(go.Scatter(
        x=means, y=diffs, mode="markers", xaxis=xa, yaxis=ya,
        marker=dict(size=7, color="rgba(0,0,0,0.5)", line=dict(width=0)),
        hoverinfo="skip", showlegend=False,
    ))
    # zero reference line
    fig.add_trace(go.Scatter(
        x=[lo, hi], y=[0, 0], mode="lines", xaxis=xa, yaxis=ya,
        line=dict(color="black", width=1.4), hoverinfo="skip", showlegend=False,
    ))
    for v in stats:
        fig.add_trace(go.Scatter(
            x=[lo, hi], y=[v, v], mode="lines", xaxis=xa, yaxis=ya,
            line=dict(color="black", width=1.4, dash="8px,5px"),
            hoverinfo="skip", showlegend=False,
        ))
        annotations.append(dict(
            x=text_x, y=v, xref=xa, yref=ya, text=fmt(v), showarrow=False,
            xanchor="right", yanchor="middle", borderpad=0,
            font=dict(family=FONT, size=13.5, color="black"),
        ))

    axis_common = dict(
        showgrid=False, zeroline=False, showline=True, linecolor="black",
        linewidth=1.1, ticks="outside", ticklen=3, tickwidth=1,
        tickcolor="#333333", ticklabeloverflow="allow",
        tickfont=dict(family=FONT, size=11, color="#4d4d4d"),
    )
    layout_axes["xaxis" + sfx] = dict(
        axis_common, domain=[dx0, dx1], range=xr, anchor=ya,
        tickmode="array", tickvals=xt,
        **({"tickformat": tfmt} if tfmt else {}),
    )
    layout_axes["yaxis" + sfx] = dict(
        axis_common, domain=[dy0, dy1], range=y_range, anchor=xa,
        tickmode="array", tickvals=y_ticks,
    )

    cx = (dx0 + dx1) / 2
    # panel title
    annotations.append(dict(
        x=cx, y=dy1 + 13 / H, xref="paper", yref="paper", text=title,
        showarrow=False, xanchor="center", yanchor="middle",
        font=dict(family=FONT, size=16, color="black"),
    ))
    # x axis title
    annotations.append(dict(
        x=cx, y=dy0 - 26 / H, xref="paper", yref="paper", text="Mean (mM)",
        showarrow=False, xanchor="center", yanchor="middle", borderpad=0,
        font=dict(family=FONT, size=13.5, color="black"),
    ))
    # y axis title
    annotations.append(dict(
        x=(cols_left[c] - 28.5) / W, y=(dy0 + dy1) / 2, xref="paper", yref="paper",
        text="Difference (mM)", textangle=-90, showarrow=False,
        xanchor="center", yanchor="middle",
        font=dict(family=FONT, size=13.5, color="black"),
    ))

fig.update_layout(
    width=W, height=H, margin=dict(l=0, r=0, t=0, b=0),
    paper_bgcolor="white", plot_bgcolor="white",
    showlegend=False, annotations=annotations, **layout_axes,
)

fig.write_html("out.html")
